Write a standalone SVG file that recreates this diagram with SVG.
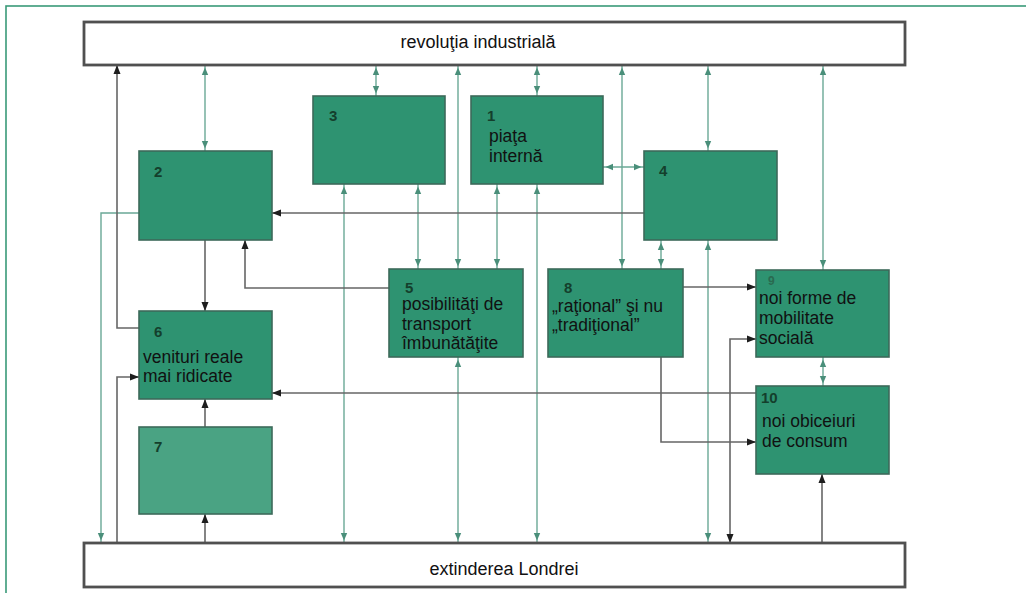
<svg xmlns="http://www.w3.org/2000/svg" width="1026" height="593" viewBox="0 0 1026 593">
<defs>
<marker id="ga" markerUnits="userSpaceOnUse" markerWidth="12" markerHeight="8" viewBox="0 0 12 8" refX="10" refY="4" orient="auto-start-reverse"><path d="M0,0.8 L7.5,4 L0,7.2 z" fill="#4a8f7a"/></marker>
<marker id="ka" markerUnits="userSpaceOnUse" markerWidth="10" markerHeight="8" viewBox="0 0 10 8" refX="9" refY="4" orient="auto-start-reverse"><path d="M0,0.5 L9,4 L0,7.5 z" fill="#1e1e1e"/></marker>
<style>
.frame{fill:none;stroke:#3a9a78;stroke-width:1.6}
.bar{fill:#ffffff;stroke:#505050;stroke-width:2.8}
.box{fill:#2e9371;stroke:#3d6a5a;stroke-width:1.6}
.box7{fill:#4aa383}
.g{fill:none;stroke:#6aa896;stroke-width:1.4}
.k{fill:none;stroke:#666666;stroke-width:1.6}
.bi{marker-start:url(#ga);marker-end:url(#ga)}
.ge{marker-end:url(#ga)}
.ke{marker-end:url(#ka)}
.kb{marker-start:url(#ka);marker-end:url(#ka)}
.num{font-family:"Liberation Sans",Arial,sans-serif;font-weight:bold;font-size:15px;fill:#143f2c}
.lbl{font-family:"Liberation Sans",Arial,sans-serif;font-size:17.5px;fill:#111}
.bt{font-family:"Liberation Sans",Arial,sans-serif;font-size:18px;fill:#111;text-anchor:middle}
</style>
</defs>
<rect x="6" y="6" width="1030" height="600" class="frame"/>
<g id="connectors">
<path class="g bi" d="M205,65 V151"/>
<path class="g bi" d="M376,65 V96"/>
<path class="g bi" d="M458,65 V269"/>
<path class="g bi" d="M537,65 V96"/>
<path class="g bi" d="M622,65 V269"/>
<path class="g bi" d="M708,65 V151"/>
<path class="g bi" d="M823,65 V270"/>
<path class="g bi" d="M344,184 V543"/>
<path class="g bi" d="M418,184 V269"/>
<path class="g bi" d="M497,184 V269"/>
<path class="g bi" d="M537,184 V543"/>
<path class="g bi" d="M458,357 V543"/>
<path class="g bi" d="M603,167 H644"/>
<path class="g bi" d="M661,240 V269"/>
<path class="g bi" d="M708,240 V543"/>
<path class="g bi" d="M823,357 V386"/>
<path class="g ge" d="M139,213 H101 V543"/>
<path class="k ke" d="M139,328 H117 V65"/>
<path class="k ke" d="M117,543 V377 H139"/>
<path class="k ke" d="M205,240 V311"/>
<path class="k ke" d="M205,427 V399"/>
<path class="k ke" d="M205,543 V514"/>
<path class="k ke" d="M644,213 H272"/>
<path class="k ke" d="M389,288 H245 V240"/>
<path class="k ke" d="M683,287 H756"/>
<path class="k ke" d="M661,357 V442 H756"/>
<path class="k kb" d="M730,543 V339 H756"/>
<path class="k ke" d="M822,543 V474"/>
<path class="k ke" d="M756,393 H272"/>
</g>
<g id="top">
<rect x="84" y="22" width="821" height="43" class="bar"/>
<text x="478" y="48" class="bt">revoluţia industrială</text>
</g>
<g id="bottom">
<rect x="84" y="543" width="821" height="44" class="bar"/>
<text x="504" y="575" class="bt">extinderea Londrei</text>
</g>
<g id="n3">
<rect x="313" y="96" width="132" height="88" class="box"/>
<text x="329" y="121" class="num">3</text>
</g>
<g id="n1">
<rect x="471" y="96" width="132" height="88" class="box"/>
<text x="487" y="121" class="num">1</text>
<text x="489" y="142" class="lbl">piaţa</text>
<text x="489" y="162" class="lbl">internă</text>
</g>
<g id="n2">
<rect x="139" y="151" width="133" height="89" class="box"/>
<text x="154" y="177" class="num">2</text>
</g>
<g id="n4">
<rect x="644" y="151" width="133" height="89" class="box"/>
<text x="659" y="176" class="num">4</text>
</g>
<g id="n5">
<rect x="389" y="269" width="134" height="88" class="box"/>
<text x="405" y="293" class="num">5</text>
<text x="402" y="310" class="lbl">posibilităţi de</text>
<text x="402" y="330" class="lbl">transport</text>
<text x="402" y="349" class="lbl">îmbunătăţite</text>
</g>
<g id="n8">
<rect x="548" y="269" width="135" height="88" class="box"/>
<text x="564" y="293" class="num">8</text>
<text x="552" y="312" class="lbl">„raţional” şi nu</text>
<text x="552" y="331" class="lbl">„tradiţional”</text>
</g>
<g id="n9">
<rect x="756" y="270" width="133" height="87" class="box"/>
<text x="768" y="285" class="num" style="font-size:12px;fill:#2a6a50">9</text>
<text x="759" y="304" class="lbl">noi forme de</text>
<text x="759" y="324" class="lbl">mobilitate</text>
<text x="759" y="344" class="lbl">socială</text>
</g>
<g id="n10">
<rect x="756" y="386" width="133" height="88" class="box"/>
<text x="761" y="403" class="num">10</text>
<text x="762" y="427" class="lbl">noi obiceiuri</text>
<text x="762" y="447" class="lbl">de consum</text>
</g>
<g id="n6">
<rect x="139" y="311" width="133" height="88" class="box"/>
<text x="154" y="337" class="num">6</text>
<text x="143" y="363" class="lbl">venituri reale</text>
<text x="143" y="382" class="lbl">mai ridicate</text>
</g>
<g id="n7">
<rect x="139" y="427" width="133" height="87" class="box box7"/>
<text x="154" y="452" class="num">7</text>
</g>
</svg>
